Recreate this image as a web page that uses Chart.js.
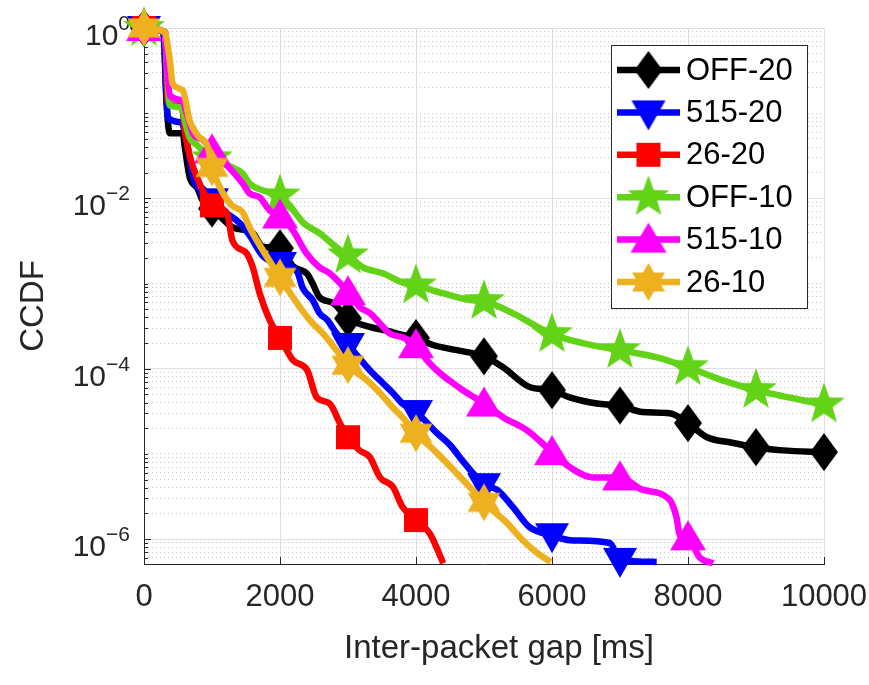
<!DOCTYPE html>
<html lang="en">
<head>
<meta charset="UTF-8">
<title>CCDF of inter-packet gap</title>
<style>
  html, body { margin: 0; padding: 0; background: #fff; }
  #wrap { width: 869px; height: 685px; }
</style>
</head>
<body>
<div id="wrap"><canvas id="chart"></canvas></div>
<script src="https://cdn.jsdelivr.net/npm/chart.js@4/dist/chart.umd.min.js"></script>
<script>
// [inter-packet gap in ms, CCDF]
const off20 = [[0,1],[290,0.9],[330,0.14],[380,0.058],[570,0.058],[600,0.040],[670,0.018],[790,0.013],[860,0.0095],
  [1000,0.0076],[1300,0.0046],[1600,0.0039],[1750,0.0027],[2000,0.0026],[2190,0.0016],[2400,0.0013],[2480,0.001],
  [2580,0.00069],[2780,0.00059],[3000,0.00039],[3320,0.00031],[3570,0.00028],[3800,0.00025],[4000,0.00023],
  [4250,0.00019],[4600,0.000165],[5000,0.00014],[5280,0.000104],[5670,0.000061],[6000,0.000056],[6260,0.000046],
  [6660,0.000039],[7000,0.000037],[7330,0.000031],[7730,0.00003],[8000,0.000023],[8280,0.0000157],
  [8610,0.0000137],[9000,0.000012],[9390,0.000011],[10000,0.0000105]];
const p515_20 = [[0,1],[280,0.9],[350,0.089],[550,0.078],[610,0.055],[750,0.015],[860,0.0131],[1000,0.0095],
  [1160,0.0072],[1410,0.0051],[1550,0.0037],[1750,0.0021],[2000,0.0017],[2140,0.0016],[2260,0.00135],[2330,0.0009],
  [2480,0.00064],[2580,0.00045],[2700,0.00037],[2830,0.00026],[3000,0.00019],[3320,0.000096],[3510,0.000068],
  [3660,0.000052],[3800,0.000039],[4000,0.000031],[4310,0.0000175],[4500,0.0000127],[4700,0.000008],
  [4900,0.0000052],[5000,0.0000043],[5190,0.0000038],[5420,0.0000024],[5670,0.00000138],[6000,0.00000111],
  [6260,0.00000097],[6850,0.0000009],[7000,0.00000057],[7540,0.00000054]];
const p26_20 = [[0,1],[310,0.9],[350,0.14],[450,0.123],[560,0.114],[600,0.063],[670,0.032],[780,0.0176],
  [1000,0.0083],[1220,0.0067],[1300,0.0032],[1510,0.00226],[1600,0.00155],[1700,0.00077],[1850,0.00037],
  [2000,0.00023],[2190,0.000126],[2400,0.000096],[2540,0.000046],[2730,0.000039],[2880,0.000023],[3000,0.0000157],
  [3170,0.000011],[3320,0.0000092],[3470,0.0000053],[3660,0.0000041],[3800,0.0000024],[4000,0.00000167],
  [4200,0.00000117],[4320,0.00000074],[4400,0.00000052]];
const off10 = [[0,1],[300,0.9],[380,0.123],[560,0.117],[600,0.082],[670,0.052],[780,0.042],[1000,0.0295],
  [1300,0.0231],[1450,0.0197],[1550,0.015],[1750,0.0124],[2000,0.0108],[2140,0.0083],[2340,0.0052],[2580,0.0039],
  [2830,0.00266],[3000,0.00214],[3220,0.00155],[3510,0.00132],[3800,0.00103],[4000,0.00095],[4390,0.00077],
  [4790,0.00064],[5000,0.00062],[5420,0.00045],[6000,0.000254],[6450,0.0002],[7000,0.000165],[7540,0.000136],
  [8000,0.000104],[8510,0.000073],[9000,0.000056],[10000,0.000038]];
const p515_10 = [[0,1],[300,0.9],[380,0.162],[560,0.141],[630,0.099],[720,0.058],[870,0.048],[1000,0.0366],
  [1290,0.0213],[1450,0.015],[1550,0.0115],[1700,0.0103],[1850,0.0072],[2000,0.0063],[2190,0.0042],[2390,0.00226],
  [2580,0.00155],[2730,0.00132],[3000,0.00079],[3170,0.00053],[3320,0.00045],[3470,0.00034],[3610,0.00026],
  [3800,0.000234],[4000,0.000189],[4160,0.000126],[4350,0.000089],[4540,0.000068],[4690,0.000056],[5000,0.000039],
  [5280,0.000027],[5630,0.000019],[6000,0.0000105],[6260,0.000007],[6600,0.0000053],[7000,0.0000053],
  [7330,0.0000038],[7730,0.0000029],[7830,0.00000181],[7880,0.00000111],[8000,0.00000105],[8170,0.00000061],
  [8370,0.00000052]];
const p26_10 = [[0,1],[300,0.9],[380,0.416],[420,0.223],[570,0.185],[670,0.0822],[790,0.0548],[940,0.0397],
  [1000,0.0231],[1140,0.0124],[1290,0.0083],[1450,0.0069],[1550,0.0046],[1660,0.0032],[2000,0.00118],
  [2190,0.00069],[2440,0.00037],[2630,0.00026],[2830,0.000165],[3000,0.00011],[3280,0.000073],[3470,0.000052],
  [3660,0.000035],[3800,0.000027],[4000,0.0000175],[4310,0.0000102],[4600,0.0000059],[4900,0.0000033],
  [5000,0.0000027],[5340,0.00000154],[5570,0.00000097],[5780,0.00000069],[5980,0.00000054]];

const seriesNames = ['OFF-20', '515-20', '26-20', 'OFF-10', '515-10', '26-10'];
const seriesColors = ['#000000', '#0000ff', '#ff0000', '#63d317', '#ff00ff', '#edb120'];
const seriesMarkers = ['diamond', 'down', 'square', 'pentagram', 'up', 'hexagram'];
const seriesData = [off20, p515_20, p26_20, off10, p515_10, p26_10];

const xTicks = [0, 2000, 4000, 6000, 8000, 10000];
const yMajorTicks = [1, 1e-2, 1e-4, 1e-6];
const yTickExponents = ['0', '\u22122', '\u22124', '\u22126'];
const yMin = 5.1e-7, yMax = 1;

const FONT = 'Liberation Sans, Arial, Helvetica, sans-serif';
const AXIS = '#262626';

// minor log grid: 2..9 x 10^n plus the odd decades
const yMinorTicks = [];
for (let e = -7; e <= 0; e++) {
  for (let k = 1; k <= 9; k++) {
    const v = k * Math.pow(10, e);
    if (v < yMin || v > yMax) continue;
    if (k === 1 && e % 2 === 0) continue;
    yMinorTicks.push(v);
  }
}

function star(g, n, R, r) {
  for (let i = 0; i < 2 * n; i++) {
    const a = -Math.PI / 2 + i * Math.PI / n;
    const rad = i % 2 === 0 ? R : r;
    if (i === 0) g.moveTo(rad * Math.cos(a), rad * Math.sin(a));
    else g.lineTo(rad * Math.cos(a), rad * Math.sin(a));
  }
}

function makeMarker(kind, color) {
  const c = document.createElement('canvas');
  c.width = 48; c.height = 48;
  const g = c.getContext('2d');
  g.translate(24, 24);
  g.fillStyle = color;
  g.beginPath();
  if (kind === 'diamond') { g.moveTo(0, -19); g.lineTo(14, 0); g.lineTo(0, 19); g.lineTo(-14, 0); }
  else if (kind === 'down') { g.moveTo(-17, -12); g.lineTo(17, -12); g.lineTo(0, 18); }
  else if (kind === 'up') { g.moveTo(-18, 13); g.lineTo(18, 13); g.lineTo(0, -17); }
  else if (kind === 'square') { g.rect(-12, -12, 24, 24); }
  else if (kind === 'pentagram') { star(g, 5, 22, 9); }
  else { star(g, 6, 19, 11); }
  g.closePath();
  g.fill();
  return c;
}

const markers = seriesMarkers.map((m, i) => makeMarker(m, seriesColors[i]));

const datasets = seriesData.map((d, i) => ({
  label: seriesNames[i],
  data: d.map(p => ({ x: p[0], y: p[1] })),
  borderColor: seriesColors[i],
  backgroundColor: seriesColors[i],
  borderWidth: 6.5,
  cubicInterpolationMode: 'monotone',
  pointStyle: markers[i],
  pointRadius: ctx => (ctx.raw && ctx.raw.x % 1000 === 0 ? 10 : 0),
  pointHoverRadius: ctx => (ctx.raw && ctx.raw.x % 1000 === 0 ? 10 : 0),
  yAxisID: 'y',
  clip: false,
  order: seriesData.length - i
}));

const decor = {
  id: 'decor',
  beforeDraw(chart) {
    const g = chart.ctx;
    g.save();
    g.fillStyle = '#fff';
    g.fillRect(0, 0, chart.width, chart.height);
    g.restore();
  },
  beforeDatasetsDraw(chart) {
    const g = chart.ctx, xs = chart.scales.x, ys = chart.scales.y, a = chart.chartArea;
    g.save();
    // inward tick marks
    g.strokeStyle = AXIS;
    g.lineWidth = 1;
    g.beginPath();
    xTicks.forEach(v => {
      const px = Math.round(xs.getPixelForValue(v)) + 0.5;
      g.moveTo(px, a.bottom); g.lineTo(px, a.bottom - 7);
    });
    yMajorTicks.forEach(v => {
      const py = Math.round(ys.getPixelForValue(v)) + 0.5;
      g.moveTo(a.left, py); g.lineTo(a.left + 7, py);
    });
    yMinorTicks.forEach(v => {
      const py = Math.round(ys.getPixelForValue(v)) + 0.5;
      g.moveTo(a.left, py); g.lineTo(a.left + 4, py);
    });
    g.stroke();

    // y tick labels 10^n
    g.fillStyle = AXIS;
    g.textBaseline = 'alphabetic';
    yMajorTicks.forEach((v, i) => {
      const py = ys.getPixelForValue(v);
      g.font = '21px ' + FONT;
      g.textAlign = 'right';
      const supW = g.measureText(yTickExponents[i]).width;
      g.fillText(yTickExponents[i], a.left - 14, py + 2);
      g.font = '30px ' + FONT;
      g.fillText('10', a.left - 14 - supW, py + 17);
    });

    // axis titles
    g.font = '33px ' + FONT;
    g.textAlign = 'center';
    g.fillText('Inter-packet gap [ms]', 499, 658);
    g.translate(43, 306);
    g.rotate(-Math.PI / 2);
    g.fillText('CCDF', 0, 0);
    g.restore();
  },
  afterDraw(chart) {
    const g = chart.ctx;
    const bx = 611, by = 45, bw = 196, bh = 263;
    g.save();
    g.fillStyle = '#fff';
    g.fillRect(bx, by, bw, bh);
    g.strokeStyle = AXIS;
    g.lineWidth = 1;
    g.strokeRect(bx + 0.5, by + 0.5, bw, bh);
    g.font = '31px ' + FONT;
    g.textAlign = 'left';
    g.textBaseline = 'middle';
    seriesNames.forEach((name, i) => {
      const ry = 70 + i * 42.4;
      g.strokeStyle = seriesColors[i];
      g.lineWidth = 6.5;
      g.beginPath();
      g.moveTo(617, ry); g.lineTo(680, ry);
      g.stroke();
      const m = markers[i];
      g.drawImage(m, 648.5 - m.width / 2, ry - m.height / 2);
      g.fillStyle = '#000';
      g.fillText(name, 686, ry + 1);
    });
    g.restore();
  }
};

new Chart(document.getElementById('chart'), {
  type: 'line',
  data: { datasets: datasets },
  plugins: [decor],
  options: {
    responsive: true,
    maintainAspectRatio: false,
    animation: false,
    layout: { padding: { top: 28, right: 45, bottom: 0, left: 0 } },
    plugins: { legend: { display: false }, tooltip: { enabled: false } },
    scales: {
      x: {
        type: 'linear',
        min: 0,
        max: 10000,
        afterBuildTicks: s => { s.ticks = xTicks.map(v => ({ value: v })); },
        afterFit: s => { s.height = 121; s.paddingLeft = 0; s.paddingRight = 0; },
        ticks: {
          callback: v => String(v),
          font: { family: FONT, size: 31 },
          color: AXIS,
          padding: 15,
          maxRotation: 0
        },
        grid: { color: '#dfdfdf', drawTicks: false },
        border: { color: AXIS, width: 1 }
      },
      y: {
        type: 'logarithmic',
        position: 'left',
        min: yMin,
        max: yMax,
        afterBuildTicks: s => { s.ticks = yMajorTicks.map(v => ({ value: v })); },
        afterFit: s => { s.width = 144; },
        ticks: { display: false },
        grid: { color: '#dfdfdf', drawTicks: false },
        border: { color: AXIS, width: 1 }
      },
      yMinor: {
        type: 'logarithmic',
        position: 'left',
        min: yMin,
        max: yMax,
        afterBuildTicks: s => { s.ticks = yMinorTicks.map(v => ({ value: v })); },
        afterFit: s => { s.width = 0; },
        ticks: { display: false },
        grid: { color: '#c4c4c4', drawTicks: false },
        border: { display: false, dash: [1, 3] }
      }
    }
  }
});
</script>
</body>
</html>
